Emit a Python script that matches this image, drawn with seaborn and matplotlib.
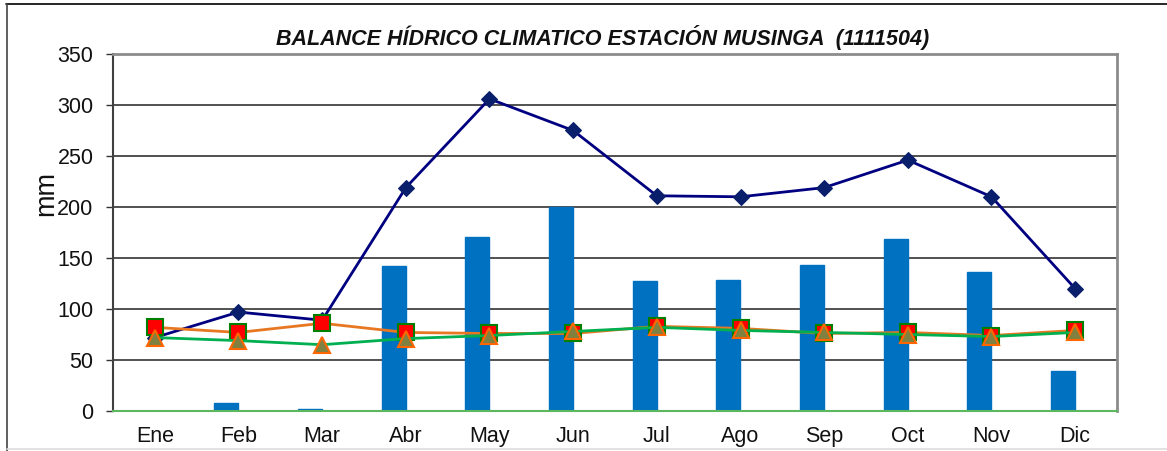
import matplotlib
matplotlib.use("Agg")
import matplotlib.pyplot as plt
import seaborn as sns
import numpy as np
from matplotlib.lines import Line2D
from matplotlib.ticker import FixedLocator

months = ["Ene", "Feb", "Mar", "Abr", "May", "Jun", "Jul", "Ago", "Sep", "Oct", "Nov", "Dic"]
precip_bars = [0, 8, 2, 142, 171, 200, 127, 128, 143, 169, 136, 39]
navy_line = [72, 97, 89, 219, 306, 275, 211, 210, 219, 246, 210, 120]
orange_line = [82, 77, 86, 77, 76, 76, 83, 81, 76, 77, 74, 79]
green_line = [72, 69, 65, 71, 74, 78, 82, 79, 77, 75, 73, 77]
y_ticks = [0, 50, 100, 150, 200, 250, 300, 350]
title = "BALANCE HÍDRICO CLIMATICO ESTACIÓN MUSINGA  (1111504)"

sns.set_theme(style="white")
plt.rcParams['font.family'] = ['Liberation Sans', 'DejaVu Sans']

fig = plt.figure(figsize=(11.67, 4.51), dpi=100)
ax = fig.add_axes([113/1167, 40/451, (1117-113)/1167, (411-54)/451])

xs = np.arange(len(months))

# bars (offset left of category center)
sns.barplot(x=xs, y=precip_bars, color="#0070C0", width=0.29, ax=ax,
            native_scale=True, saturation=1, zorder=2)
for p in ax.patches:
    p.set_x(p.get_x() - 0.145)
    p.set_edgecolor("#0070C0")

sns.lineplot(x=xs, y=navy_line, ax=ax, color="#000080", lw=2, marker="D",
             markersize=8, markerfacecolor="#0A1F6B", markeredgecolor="#0A1F6B", zorder=4)
sns.lineplot(x=xs, y=orange_line, ax=ax, color="#E87722", lw=2, marker="s",
             markersize=11, markerfacecolor="#FF0000", markeredgecolor="#008000",
             markeredgewidth=1.5, zorder=5)
sns.lineplot(x=xs, y=green_line, ax=ax, color="#00B050", lw=2, marker="^",
             markersize=11, markerfacecolor="#808040", markeredgecolor="#FF6600",
             markeredgewidth=1.5, zorder=6)

ax.set_xlim(-0.5, 11.5)
ax.set_ylim(0, 350)
ax.set_yticks(y_ticks)
ax.set_xticks(xs)
ax.set_xticklabels(months)
ax.xaxis.set_minor_locator(FixedLocator(np.arange(-0.5, 12, 1)))
ax.tick_params(axis="x", which="major", length=0, labelsize=15.5, pad=11, colors="#111111")
ax.tick_params(axis="x", which="minor", length=5, width=1, color="#5CB85C", direction="out")
ax.tick_params(axis="y", length=5, width=1, color="#333333", labelsize=15.5, pad=9,
               left=True, direction="out", labelcolor="#111111")

for y in y_ticks[1:]:
    ax.axhline(y, color="#333333" if y < 350 else "#888888", lw=1.2, zorder=1)

for side in ["top", "right"]:
    ax.spines[side].set_color("#8C8C8C")
    ax.spines[side].set_linewidth(2)
ax.spines["left"].set_color("#404040")
ax.spines["left"].set_linewidth(1.5)
ax.spines["bottom"].set_color("#5CB85C")
ax.spines["bottom"].set_linewidth(1.5)
ax.spines["bottom"].set_zorder(7)

ax.set_xlabel("")
ax.set_ylabel("mm", fontsize=19.5, color="#111111", va="center")
ax.yaxis.set_label_coords((46 - 113) / 1004, (411 - 194) / 357)

fig.text(603/1167, 1 - 37/451, title, ha="center", va="center", fontsize=15.5,
         fontweight="bold", fontstyle="italic", color="#111111")

# outer frame
fig.add_artist(Line2D([6/1167, 1], [1 - 4/451, 1 - 4/451], color="black", lw=1.2,
                      transform=fig.transFigure))
fig.add_artist(Line2D([7/1167, 7/1167], [1 - 4/451, 0], color="#444444", lw=1.2,
                      transform=fig.transFigure))
fig.add_artist(Line2D([7/1167, 1], [2/451, 2/451], color="#DDDDDD", lw=1.2,
                      transform=fig.transFigure))

fig.savefig("out.png", dpi=100)
